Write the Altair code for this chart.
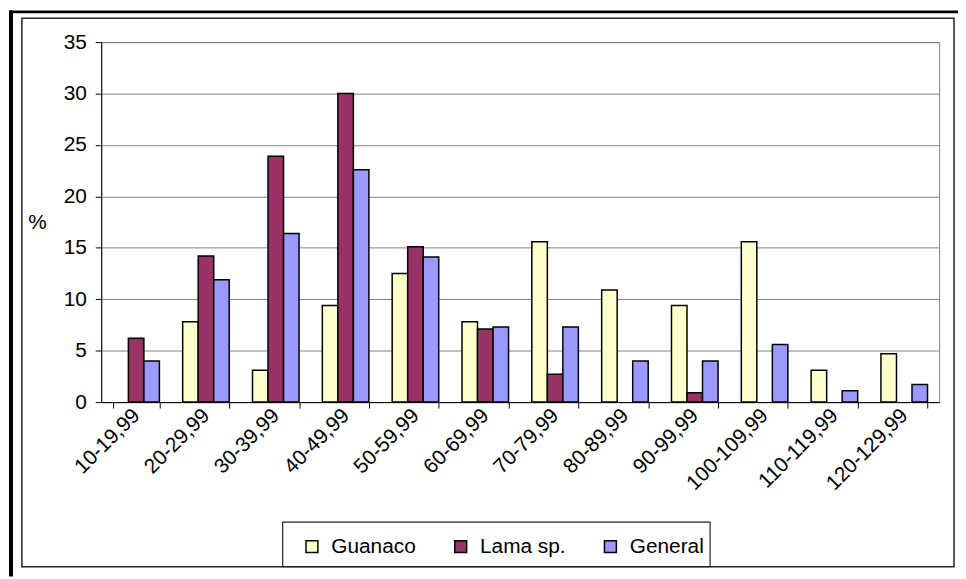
import altair as alt
import pandas as pd

categories = ["10-19,99", "20-29,99", "30-39,99", "40-49,99", "50-59,99", "60-69,99",
              "70-79,99", "80-89,99", "90-99,99", "100-109,99", "110-119,99", "120-129,99"]
series = ["Guanaco", "Lama sp.", "General"]
guanaco = [0, 7.8, 3.1, 9.4, 12.5, 7.8, 15.6, 10.9, 9.4, 15.6, 3.1, 4.7]
lama = [6.2, 14.2, 23.9, 30.0, 15.1, 7.1, 2.7, 0, 0.9, 0, 0, 0]
general = [4.0, 11.9, 16.4, 22.6, 14.1, 7.3, 7.3, 4.0, 4.0, 5.6, 1.1, 1.7]
colors = ["#FFFFCC", "#993366", "#9999FF"]
y_ticks = [0, 5, 10, 15, 20, 25, 30, 35]

rows = []
for i, c in enumerate(categories):
    for s, vals in zip(series, [guanaco, lama, general]):
        rows.append({"cat": c, "series": s, "value": vals[i]})
df = pd.DataFrame(rows)

W, H = 845, 363
FONT = "Liberation Sans"
FS = 21

bars = alt.Chart(df).mark_bar(stroke="black", strokeWidth=1.5).encode(
    x=alt.X("cat:N", sort=categories, title=None,
            scale=alt.Scale(domain=categories, paddingInner=1/3, paddingOuter=1/6),
            axis=alt.Axis(labelAngle=315, labelAlign="right", labelBaseline="middle",
                          tickBand="extent", tickSize=6, tickColor="black",
                          domainColor="black", labelPadding=4, labelFontSize=FS,
                          labelFont=FONT, labelColor="black", grid=False)),
    xOffset=alt.XOffset("series:N", sort=series,
                        scale=alt.Scale(domain=series, paddingInner=0, paddingOuter=0)),
    y=alt.Y("value:Q", scale=alt.Scale(domain=[0, 35], nice=False),
            axis=alt.Axis(values=y_ticks, title="%", titleAngle=0, titleAlign="left",
                          titleBaseline="middle", titleX=-74, titleY=182,
                          titleFont=FONT, titleFontSize=FS, titleFontWeight="normal",
                          titleColor="black", tickSize=6, tickColor="black",
                          domainColor="black", labelPadding=9, labelFontSize=FS,
                          labelFont=FONT, labelColor="black", grid=True,
                          gridColor="#808080")),
    color=alt.Color("series:N", sort=series,
                    scale=alt.Scale(domain=series, range=colors),
                    legend=alt.Legend(orient="none", direction="horizontal",
                                      legendX=202, legendY=498, title=None,
                                      symbolType="square", symbolSize=144,
                                      symbolStrokeColor="black", symbolStrokeWidth=1.5,
                                      symbolOpacity=1,
                                      labelFontSize=FS, labelFont=FONT, labelColor="black",
                                      columnPadding=34, labelOffset=9, padding=0,
                                      labelLimit=300)),
).transform_filter("datum.value > 0")

one = alt.Data(values=[{"a": 1}])


def box(x, x2, y, y2, **kw):
    return alt.Chart(one).mark_rect(**kw).encode(
        x=alt.value(x), x2=alt.value(x2), y=alt.value(y), y2=alt.value(y2))


frame = box(-80, 860, -24, 529, fillOpacity=0, stroke="#222222", strokeWidth=1.5)
left_bar = box(-93, -89, -32, 539, fill="black")
top_bar = box(-93, 864, -32, -29, fill="black")
legend_box = box(183, 614, 484, 529, fillOpacity=0, stroke="#222222", strokeWidth=1.2)

chart = alt.layer(frame, left_bar, top_bar, legend_box, bars).properties(
    width=W, height=H,
    autosize=alt.AutoSizeParams(type="none"),
    padding={"left": 94, "top": 32, "right": 19, "bottom": 176},
).configure_view(stroke="#808080", strokeWidth=1)

chart.save("out.html", embed_options={"renderer": "svg", "actions": False})
